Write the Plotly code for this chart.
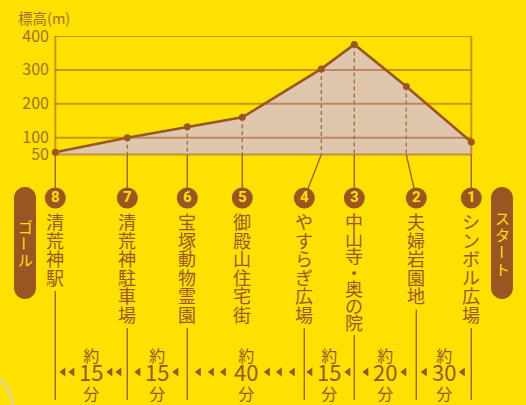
import plotly.graph_objects as go

# ---------------- data ----------------
numbers = [1, 2, 3, 4, 5, 6, 7, 8]
stations = ["シンボル広場", "夫婦岩園地", "中山寺・奥の院", "やすらぎ広場",
            "御殿山住宅街", "宝塚動物霊園", "清荒神駐車場", "清荒神駅"]
elevation = [87, 251, 375, 303, 160, 132, 100, 57]          # m
distance = [0, 0.65, 1.17, 1.50, 2.29, 2.84, 3.44, 4.16]    # route position (start = 0)
label_pos = [0, 0.55, 1.17, 1.67, 2.29, 2.84, 3.44, 4.16]   # column of the station label
seg_from = [0, 1, 2, 3, 5, 6]
seg_to = [1, 2, 3, 5, 6, 7]
seg_minutes = [30, 20, 15, 40, 15, 15]
seg_arrows = [1, 1, 1, 3, 1, 2]
lower_line = [True, True, True, True, False, True, True, True]
y_ticks = [50, 100, 200, 300, 400]
y_title = "標高(m)"
badge_start = "スタート"
badge_goal = "ゴール"

# ---------------- style ----------------
W, H = 526, 405
L, R, T, B = 50, 40, 36, 5
PW, PH = W - L - R, H - T - B
X_RANGE = [4.213, -0.147]
Y_RANGE = [-674, 400]
YELLOW = "#FFE100"
BROWN = "#9B5523"
TAN = "#DFC7AE"
GRID = "rgba(160,88,30,0.55)"
TICK = "#A0702A"
JP = "Noto Sans CJK JP"
LINE_SPACING = 1.3          # plotly's line height factor
PX_PER_UNIT = PW / (X_RANGE[0] - X_RANGE[1])


def py(p):          # screen pixel y -> paper y
    return (H - B - p) / PH


def pxp(p):         # screen pixel x -> paper x
    return (p - L) / PW


def yp(v):          # data y -> paper y
    return (v - Y_RANGE[0]) / (Y_RANGE[1] - Y_RANGE[0])


def vertical(text, glyph):
    return "<br>".join(f"<span style='font-size:{glyph}px'>{c}</span>" for c in text)


fig = go.Figure()

# baseline at 50 m and filled profile
fig.add_trace(go.Scatter(x=distance, y=[y_ticks[0]] * len(distance), mode="lines",
                         line=dict(width=0, color=TAN), hoverinfo="skip", showlegend=False))
fig.add_trace(go.Scatter(x=distance, y=elevation, mode="lines", fill="tonexty",
                         fillcolor=TAN, line=dict(width=0), hoverinfo="skip", showlegend=False))

# grid lines (drawn above the fill)
gx, gy = [], []
xmin, xmax = min(distance), max(distance)
for v in y_ticks:
    gx += [xmax, xmin, None]
    gy += [v, v, None]
for xv in (xmin, xmax):
    gx += [xv, xv, None]
    gy += [y_ticks[0], y_ticks[-1], None]
fig.add_trace(go.Scatter(x=gx, y=gy, mode="lines", line=dict(color=GRID, width=2),
                         hoverinfo="skip", showlegend=False))

# dashed drop lines
dx, dy = [], []
for i in range(1, len(distance) - 1):
    dx += [distance[i], distance[i], None]
    dy += [elevation[i], y_ticks[0], None]
fig.add_trace(go.Scatter(x=dx, y=dy, mode="lines",
                         line=dict(color="#A8683A", width=1.3, dash="4px,3px"),
                         hoverinfo="skip", showlegend=False))

# elevation profile
fig.add_trace(go.Scatter(x=distance, y=elevation, mode="lines+markers",
                         line=dict(color=BROWN, width=2.6),
                         marker=dict(color=BROWN, size=7), cliponaxis=False,
                         showlegend=False, name="標高"))

shapes = []
annotations = []

CIRCLE_Y = 198
NAME_TOP = 213
NAME_BOTTOM_MAX = 331

for i, name in enumerate(stations):
    # connector from profile base to number circle
    shapes.append(dict(type="line", xref="x", yref="paper",
                       x0=distance[i], y0=yp(y_ticks[0]), x1=label_pos[i], y1=py(CIRCLE_Y),
                       line=dict(color=BROWN, width=1.3), layer="below"))
    # vertical name
    pitch = 18.5 if len(name) <= 6 else (NAME_BOTTOM_MAX - NAME_TOP) / len(name)
    height = pitch * len(name)
    annotations.append(dict(text=vertical(name, 18), x=label_pos[i],
                            y=py(NAME_TOP + height / 2 - 1), xref="x", yref="paper",
                            showarrow=False, xanchor="center", yanchor="middle",
                            font=dict(family=JP, size=pitch / LINE_SPACING, color=BROWN)))
    if lower_line[i]:
        shapes.append(dict(type="line", xref="x", yref="paper",
                           x0=label_pos[i], y0=py(NAME_TOP + height + 4),
                           x1=label_pos[i], y1=py(400),
                           line=dict(color=BROWN, width=1.3), layer="below"))

# number circles
fig.add_trace(go.Scatter(x=label_pos, y=[py(CIRCLE_Y)] * len(label_pos), yaxis="y2",
                         mode="markers+text", text=[str(n) for n in numbers],
                         textposition="middle center",
                         textfont=dict(family="Roboto", size=15, color=YELLOW, weight="bold"),
                         marker=dict(color=BROWN, size=21), cliponaxis=False,
                         hoverinfo="skip", showlegend=False))

# walking times and arrows
ARROW_Y = 372
TIME_PITCH = 19
arrow_offsets = {1: [19], 2: [19, 28], 3: [22, 34, 47]}
ax_, ay_ = [], []
for a, b, mins, n in zip(seg_from, seg_to, seg_minutes, seg_arrows):
    c = (label_pos[a] + label_pos[b]) / 2
    txt = (f"<span style='font-size:16px'>約</span><br>"
           f"<span style='font-size:22px'>{mins}</span><br>"
           f"<span style='font-size:16px'>分</span>")
    annotations.append(dict(text=txt, x=c, y=py(374), xref="x", yref="paper",
                            showarrow=False, xanchor="center", yanchor="middle",
                            font=dict(family=JP, size=TIME_PITCH / LINE_SPACING, color=BROWN)))
    for o in arrow_offsets[n]:
        ax_ += [c + o / PX_PER_UNIT, c - o / PX_PER_UNIT]
        ay_ += [py(ARROW_Y), py(ARROW_Y)]
fig.add_trace(go.Scatter(x=ax_, y=ay_, yaxis="y2", mode="markers",
                         marker=dict(symbol="triangle-left", size=8, color=BROWN),
                         hoverinfo="skip", showlegend=False))


# start / goal badges
def rounded_rect(x0, y0, x1, y1, r):
    k = 0.5523 * r

    def P(x, y):
        return f"{pxp(x):.5f},{py(y):.5f}"
    pts = [f"M{P(x0 + r, y0)}", f"L{P(x1 - r, y0)}",
           f"C{P(x1 - r + k, y0)} {P(x1, y0 + r - k)} {P(x1, y0 + r)}",
           f"L{P(x1, y1 - r)}",
           f"C{P(x1, y1 - r + k)} {P(x1 - r + k, y1)} {P(x1 - r, y1)}",
           f"L{P(x0 + r, y1)}",
           f"C{P(x0 + r - k, y1)} {P(x0, y1 - r + k)} {P(x0, y1 - r)}",
           f"L{P(x0, y0 + r)}",
           f"C{P(x0, y0 + r - k)} {P(x0 + r - k, y0)} {P(x0 + r, y0)}", "Z"]
    return " ".join(pts)


for text, bx0, bx1, pitch in ((badge_goal, 14, 36, 16.5), (badge_start, 491, 513, 17)):
    by0, by1 = 187, 299
    shapes.append(dict(type="path", xref="paper", yref="paper",
                       path=rounded_rect(bx0, by0, bx1, by1, 11),
                       fillcolor=BROWN, line=dict(width=0), layer="above"))
    top = (by0 + by1) / 2 - len(text) * pitch / 2
    for j, ch in enumerate(text):
        annotations.append(dict(text=ch, x=pxp((bx0 + bx1) / 2), y=py(top + pitch * (j + 0.5)),
                                xref="paper", yref="paper", showarrow=False,
                                xanchor="center", yanchor="middle",
                                textangle=90 if ch == "ー" else 0,
                                font=dict(family=JP, size=15, color=YELLOW)))

# decorative arc at bottom-left
shapes.append(dict(type="circle", xref="paper", yref="paper",
                   x0=pxp(-73), x1=pxp(13), y0=py(453), y1=py(367),
                   line=dict(color="#E5CFA8", width=2.5)))

# axis title
annotations.append(dict(text=y_title, x=pxp(16), y=py(18), xref="paper", yref="paper",
                        showarrow=False, xanchor="left", yanchor="middle",
                        font=dict(family=JP, size=14.5, color=TICK)))

fig.update_layout(
    width=W, height=H,
    margin=dict(l=L, r=R, t=T, b=B, pad=0),
    paper_bgcolor=YELLOW, plot_bgcolor=YELLOW,
    showlegend=False,
    xaxis=dict(range=X_RANGE, visible=False, fixedrange=True),
    yaxis=dict(range=Y_RANGE, tickvals=y_ticks, ticktext=[str(v) for v in y_ticks],
               showgrid=False, zeroline=False, showline=False, ticks="",
               tickfont=dict(family=JP, size=16, color=TICK), fixedrange=True),
    yaxis2=dict(range=[0, 1], overlaying="y", visible=False, fixedrange=True),
    shapes=shapes,
    annotations=annotations,
)

fig.write_html(
    "out.html",
    config={"displayModeBar": False},
    post_script="document.body.style.margin='0';document.body.style.background='" + YELLOW + "';",
)
